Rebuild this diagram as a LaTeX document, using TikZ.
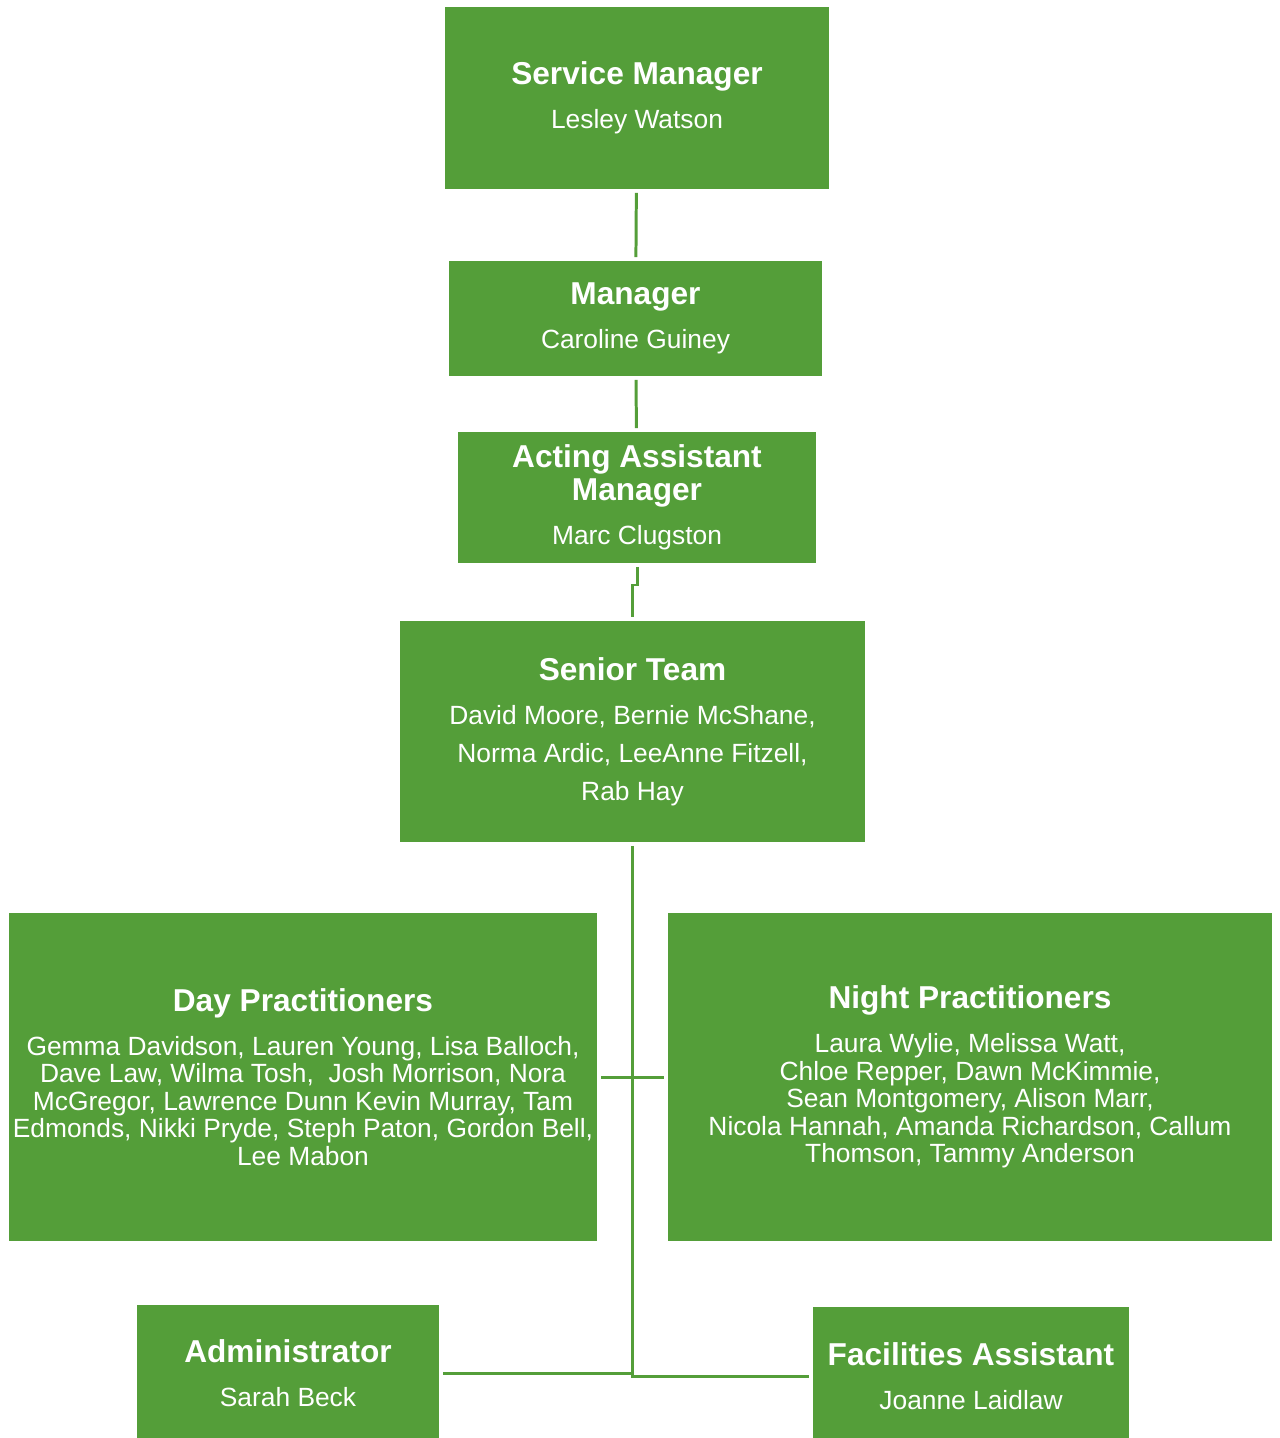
\documentclass[tikz,border=0pt]{standalone}
\usepackage{fontspec}
\setmainfont{Liberation Sans}
\definecolor{leafgreen}{HTML}{549E39}

\begin{document}
\begin{tikzpicture}[
	box/.style={fill=leafgreen,text=white,align=center,inner sep=0pt,
		font=\fontsize{15}{17}\selectfont},
	link/.style={draw=leafgreen,line width=1.7pt,shorten <=2pt,shorten >=2pt}]
	\useasboundingbox (0,0) rectangle (25.58,-28.76);
	\newcommand{\role}[1]{{\fontsize{18}{17}\selectfont\bfseries #1}}

	\node[box,minimum width=7.68cm,minimum height=3.64cm](SM) at (12.74,-1.96)
		{\role{Service Manager}\\[8pt]Lesley Watson};
	\node[box,minimum width=7.46cm,minimum height=2.30cm](M) at (12.71,-6.37)
		{\role{Manager}\\[8pt]Caroline Guiney};
	\node[box,minimum width=7.16cm,minimum height=2.62cm](AAM) at (12.74,-9.95)
		{\role{Acting Assistant}\\[1.8pt]\role{Manager}\\[8pt]Marc Clugston};
	\node[box,minimum width=9.30cm,minimum height=4.42cm](ST) at (12.65,-14.63)
		{\role{Senior Team}\\[8pt]David Moore, Bernie McShane,\\[4.6pt]
		Norma Ardic, LeeAnne Fitzell,\\[4.6pt]Rab Hay};
	\node[box,minimum width=11.76cm,minimum height=6.56cm](DP) at (6.06,-21.54)
		{\role{Day Practitioners}\\[8pt]
		Gemma Davidson, Lauren Young, Lisa Balloch,\\[-1.4pt]
		Dave Law, Wilma Tosh,\ \ Josh Morrison, Nora\\[-1.4pt]
		McGregor, Lawrence Dunn Kevin Murray, Tam\\[-1.4pt]
		Edmonds, Nikki Pryde, Steph Paton, Gordon Bell,\\[-1.4pt]
		Lee Mabon};
	\node[box,minimum width=12.08cm,minimum height=6.56cm](NP) at (19.40,-21.54)
		{\role{Night Practitioners}\\[8pt]
		Laura Wylie, Melissa Watt,\\[-1.4pt]
		Chloe Repper, Dawn McKimmie,\\[-1.4pt]
		Sean Montgomery, Alison Marr,\\[-1.4pt]
		Nicola Hannah, Amanda Richardson, Callum\\[-1.4pt]
		Thomson, Tammy Anderson};
	\node[box,minimum width=6.04cm,minimum height=2.72cm](ADM) at (5.76,-27.46)
		{\role{Administrator}\\[8pt]Sarah Beck};
	\node[box,minimum width=6.32cm,minimum height=2.78cm](FA) at (19.42,-27.53)
		{\role{Facilities Assistant}\\[8pt]Joanne Laidlaw};

	\coordinate (jog) at (12.74,-11.70);

	\draw[link] (SM) -- (M);
	\draw[link] (M) -- (AAM);
	\draw[link] (AAM.south) -- (jog) -| (ST.north);
	\draw[link] (DP.east) -- (NP.west);
	\draw[link] (ST.south) |- (FA.west);
	\draw[link,shorten <=0pt] (ST.south |- ADM.east) -- (ADM.east);
\end{tikzpicture}
\end{document}
